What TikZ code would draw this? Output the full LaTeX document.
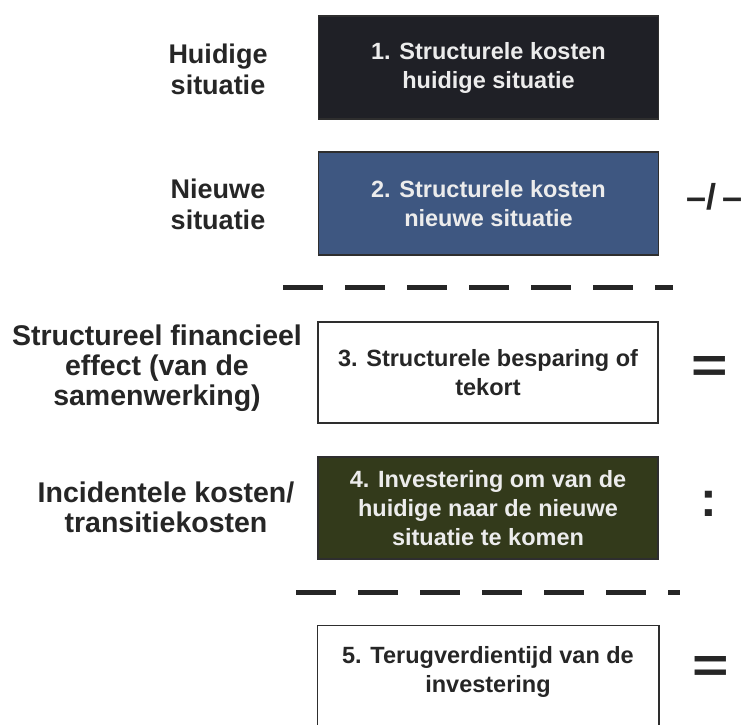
\documentclass[tikz,border=0pt]{standalone}
\usepackage{fontspec}
\setmainfont{Liberation Sans}
\definecolor{boxdark}{HTML}{1F2026}
\definecolor{boxblue}{HTML}{3E5781}
\definecolor{boxolive}{HTML}{333A1B}
\definecolor{edgegray}{HTML}{2E2E2E}
\definecolor{inktext}{HTML}{262626}
\definecolor{lighttext}{HTML}{ECECEC}
\newcommand\stgfont{\bfseries\fontsize{23.5}{29}\selectfont}
\newcommand\lblfont{\bfseries\fontsize{27}{31}\selectfont}
\newcommand\lblbigfont{\bfseries\fontsize{28.5}{30}\selectfont}
\newcommand\opfont{\bfseries\fontsize{50}{50}\selectfont}
\begin{document}
\begin{tikzpicture}[x=1pt,y=-1pt,
  stage/.style={draw=edgegray, line width=1.5pt, minimum width=340pt, minimum height=103pt,
    align=center, inner sep=4pt, font=\stgfont},
  darkstage/.style={stage, fill=#1, text=lighttext},
  lightstage/.style={stage, fill=white, text=inktext},
  rowlabel/.style={align=center, font=\lblfont, text=inktext, inner sep=0pt},
  opsign/.style={font=\opfont, text=inktext, inner sep=0pt},
  sepline/.style={draw=inktext, line width=5pt, dash pattern=on 40pt off 22pt, line cap=butt}]
\useasboundingbox[fill=white] (0,0) rectangle (745,724);

% stage boxes
\node[darkstage=boxdark] (s1) at (488.5,67.5) {1. Structurele kosten\\huidige situatie};
\node[darkstage=boxblue] (s2) at (488.5,203.5) {2. Structurele kosten\\nieuwe situatie};
\node[lightstage, minimum height=101pt] (s3) at (488,372.5) {3. Structurele besparing of\\tekort};
\node[darkstage=boxolive, minimum height=102pt] (s4) at (488,508) {4. Investering om van de\\huidige naar de nieuwe\\situatie te komen};
\node[lightstage, draw=none, minimum height=92pt] (s5) at (488,672) {5. Terugverdientijd van de\\investering};
\draw[edgegray, line width=1.5pt] ([yshift=-12pt]s5.south west) -- (s5.north west) -- (s5.north east) -- ([yshift=-12pt]s5.south east);

% row labels
\node[rowlabel] (l1) at (218,69) {Huidige\\situatie};
\node[rowlabel] (l2) at (218,204) {Nieuwe\\situatie};
\node[rowlabel, font=\lblbigfont] (l3) at (157,368) {Structureel financieel\\effect (van de\\samenwerking)};
\node[rowlabel, font=\lblbigfont] (l4) at (166,507) {Incidentele kosten/\\transitiekosten};

% separators
\coordinate (d1a) at (283,287);
\coordinate (d1b) at (673,287);
\coordinate (d2a) at (296,592);
\coordinate (d2b) at (680,592);
\draw[sepline] (d1a) -- (d1b);
\draw[sepline] (d2a) -- (d2b);

% operators
\node[opsign, font=\bfseries\fontsize{36}{36}\selectfont, anchor=west] (o2) at (686,197) {–/\,–};
\node[opsign] (o3) at (710,369) {\scalebox{1.25}[1]{=}};
\node[opsign] (o4) at (709,504) {:};
\node[opsign] (o5) at (711,669) {\scalebox{1.25}[1]{=}};
\end{tikzpicture}
\end{document}
